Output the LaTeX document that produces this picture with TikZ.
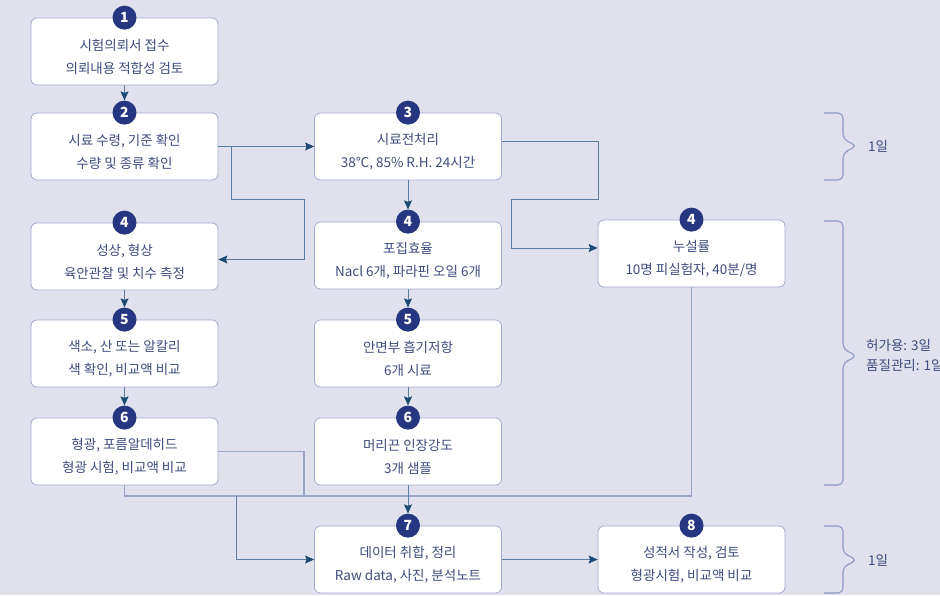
\documentclass[tikz,border=0pt]{standalone}
\usepackage{fontspec}
\setmainfont{Noto Sans CJK KR}
\usetikzlibrary{arrows.meta}
\definecolor{bg}{HTML}{E1E1EE}
\definecolor{boxline}{HTML}{A3A9CC}
\definecolor{circ}{HTML}{273680}
\definecolor{txt}{HTML}{3E4C7E}
\definecolor{conn}{HTML}{5A7DA0}
\definecolor{tipc}{HTML}{1D4A74}
\definecolor{busc}{HTML}{98A5C8}
\definecolor{bracec}{HTML}{8E99C6}
\begin{document}
\begin{tikzpicture}[x=1pt,y=-1pt,
  box/.style={draw=boxline,line width=0.8pt,fill=white,rounded corners=6pt,minimum width=187pt,minimum height=67pt,inner sep=0pt},
  btxt/.style={text=txt,align=center,font=\fontsize{13.5}{23}\selectfont,inner sep=0pt},
  num/.style={circle,fill=circ,text=white,minimum size=24pt,inner sep=0pt,font=\fontsize{14}{14}\selectfont\bfseries},
  arr/.style={draw=conn,line width=0.9pt,-{Stealth[length=9pt,width=8pt,inset=1.5pt,color=tipc]}},
  bus/.style={draw=busc,line width=1.3pt},
  brace/.style={draw=bracec,line width=1.1pt,rounded corners=5pt},
  lbl/.style={text=txt,anchor=west,align=left,font=\fontsize{13.5}{20}\selectfont,inner sep=0pt}]
\useasboundingbox (0,0) rectangle (940,595);
\fill[bg] (0,0) rectangle (940,595);

% boxes
\node[box] (b1) at (124.5,51.5) {};
\node[box] (b2) at (124.5,146.5) {};
\node[box] (b4L) at (124.5,256.5) {};
\node[box] (b5L) at (124.5,353.5) {};
\node[box] (b6L) at (124.5,451.5) {};
\node[box] (b3) at (408,146.5) {};
\node[box] (b4M) at (408,255.5) {};
\node[box] (b5M) at (408,353.5) {};
\node[box] (b6M) at (408,451.5) {};
\node[box] (b7) at (408,559.5) {};
\node[box] (b4R) at (691.5,253.5) {};
\node[box] (b8) at (691.5,559.5) {};

% texts
\node[btxt] (t1) at ([yshift=-5pt]b1.center) {시험의뢰서 접수\\의뢰내용 적합성 검토};
\node[btxt] (t2) at ([yshift=-5pt]b2.center) {시료 수령, 기준 확인\\수량 및 종류 확인};
\node[btxt] (t4L) at ([yshift=-5pt]b4L.center) {성상, 형상\\육안관찰 및 치수 측정};
\node[btxt] (t5L) at ([yshift=-5pt]b5L.center) {색소, 산 또는 알칼리\\색 확인, 비교액 비교};
\node[btxt] (t6L) at ([yshift=-5pt]b6L.center) {형광, 포름알데히드\\형광 시험, 비교액 비교};
\node[btxt] (t3) at ([yshift=-5pt]b3.center) {시료전처리\\38℃, 85\% R.H. 24시간};
\node[btxt] (t4M) at ([yshift=-5pt]b4M.center) {포집효율\\Nacl 6개, 파라핀 오일 6개};
\node[btxt] (t5M) at ([yshift=-5pt]b5M.center) {안면부 흡기저항\\6개 시료};
\node[btxt] (t6M) at ([yshift=-5pt]b6M.center) {머리끈 인장강도\\3개 샘플};
\node[btxt] (t7) at ([yshift=-5pt]b7.center) {데이터 취합, 정리\\Raw data, 사진, 분석노트};
\node[btxt] (t4R) at ([yshift=-5pt]b4R.center) {누설률\\10명 피실험자, 40분/명};
\node[btxt] (t8) at ([yshift=-5pt]b8.center) {성적서 작성, 검토\\형광시험, 비교액 비교};

% number circles
\node[num] (c1) at (b1.north) {1};
\node[num] (c2) at (b2.north) {2};
\node[num] (c4L) at (b4L.north) {4};
\node[num] (c5L) at (b5L.north) {5};
\node[num] (c6L) at (b6L.north) {6};
\node[num] (c3) at (b3.north) {3};
\node[num] (c4M) at (b4M.north) {4};
\node[num] (c5M) at (b5M.north) {5};
\node[num] (c6M) at (b6M.north) {6};
\node[num] (c7) at (b7.north) {7};
\node[num] (c4R) at (b4R.north) {4};
\node[num] (c8) at (b8.north) {8};

% bus lines (light)
\draw[bus] (b6L.east) -| (304,496);
\draw[bus] (b6L.south) |- (691.5,496) -- (b4R.south);

% connectors
\draw[arr] (b1.south) -- (c2.north);
\draw[arr] (b2.east) -- (b3.west);
\draw[arr] ([xshift=13pt]b2.east) |- (304,199) |- ([yshift=-3pt]b4L.east);
\draw[arr] ([yshift=5pt]b3.east) -| (598,199) -| (511,248) -- ([yshift=5.5pt]b4R.west);
\draw[arr] (b3.south) -- (c4M.north);
\draw[arr] (b4L.south) -- (c5L.north);
\draw[arr] (b5L.south) -- (c6L.north);
\draw[arr] (b4M.south) -- (c5M.north);
\draw[arr] (b5M.south) -- (c6M.north);
\draw[arr] (b6M.south) -- (c7.north);
\coordinate (busj) at (236,496);
\draw[arr] (busj) |- (b7.west);
\draw[arr] (b7.east) -- (b8.west);

% braces
\draw[brace] (824,113) -- (843,113) -- (843,139) -- (857,146) -- (843,153) -- (843,180) -- (824,180);
\draw[brace] (824,221) -- (843,221) -- (843,349) -- (857,356) -- (843,363) -- (843,485) -- (824,485);
\draw[brace] (824,526) -- (843,526) -- (843,553) -- (857,560) -- (843,567) -- (843,593) -- (824,593);

% labels
\node[lbl] (l1) at (868,146) {1일};
\node[lbl] (l2) at (866,355) {허가용: 3일\\품질관리: 1일};
\node[lbl] (l3) at (868,560) {1일};
\end{tikzpicture}
\end{document}
